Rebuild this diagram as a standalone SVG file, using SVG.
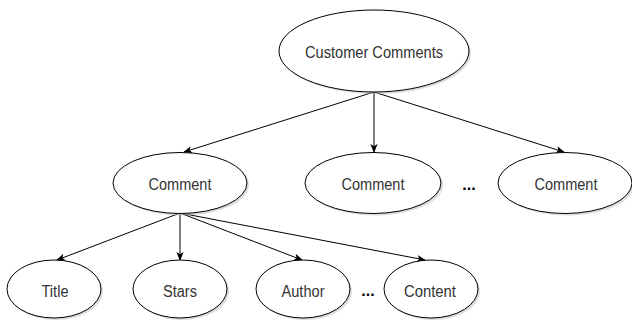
<svg xmlns="http://www.w3.org/2000/svg" width="632" height="326" viewBox="0 0 632 326">
<style>
.n ellipse.s{fill:#bbb;opacity:0.5}
.n ellipse.b{fill:#fff;stroke:#000;stroke-width:1}
.t{font-family:"Liberation Sans",Arial,sans-serif;font-size:16px;fill:#333;text-anchor:middle}
.d{font-family:"Liberation Sans",Arial,sans-serif;font-size:16px;font-weight:bold;fill:#000;text-anchor:middle}
.c line{stroke:#000;stroke-width:1;fill:none}
</style>
<defs>
<marker id="ar" viewBox="0 0 10 10" refX="9" refY="5" markerWidth="9" markerHeight="9" markerUnits="userSpaceOnUse" orient="auto">
<path d="M0,1 L10,5 L0,9 L2.5,5 Z" fill="#000"/>
</marker>
</defs>
<rect width="632" height="326" fill="#fff"/>
<g class="c">
<line x1="374" y1="92" x2="184" y2="152" marker-end="url(#ar)"/>
<line x1="374" y1="92" x2="374" y2="152" marker-end="url(#ar)"/>
<line x1="374" y1="92" x2="564" y2="152" marker-end="url(#ar)"/>
<line x1="180" y1="213" x2="57" y2="260" marker-end="url(#ar)"/>
<line x1="180" y1="213" x2="180" y2="260" marker-end="url(#ar)"/>
<line x1="180" y1="213" x2="302" y2="260" marker-end="url(#ar)"/>
<line x1="180" y1="213" x2="425" y2="260" marker-end="url(#ar)"/>
</g>
<g id="customer-comments" class="n">
<ellipse class="s" cx="376" cy="53" rx="95" ry="41"/>
<ellipse class="b" cx="374" cy="51" rx="95" ry="41"/>
<text class="t" x="374" y="58" textLength="138" lengthAdjust="spacingAndGlyphs">Customer Comments</text>
</g>
<g id="comment1" class="n">
<ellipse class="s" cx="182" cy="185" rx="67" ry="30.5"/>
<ellipse class="b" cx="180" cy="183" rx="67" ry="30.5"/>
<text class="t" x="180" y="190" textLength="63" lengthAdjust="spacingAndGlyphs">Comment</text>
</g>
<g id="comment2" class="n">
<ellipse class="s" cx="375" cy="185" rx="68" ry="30.5"/>
<ellipse class="b" cx="373" cy="183" rx="68" ry="30.5"/>
<text class="t" x="373" y="190" textLength="63" lengthAdjust="spacingAndGlyphs">Comment</text>
</g>
<g id="comment3" class="n">
<ellipse class="s" cx="567" cy="185" rx="67" ry="30.5"/>
<ellipse class="b" cx="565" cy="183" rx="67" ry="30.5"/>
<text class="t" x="566" y="190" textLength="63" lengthAdjust="spacingAndGlyphs">Comment</text>
</g>
<g id="ellipsis1"><text class="d" x="469" y="190">...</text></g>
<g id="title" class="n">
<ellipse class="s" cx="56" cy="291" rx="47" ry="29"/>
<ellipse class="b" cx="54" cy="289" rx="47" ry="29"/>
<text class="t" x="55" y="297" textLength="27" lengthAdjust="spacingAndGlyphs">Title</text>
</g>
<g id="stars" class="n">
<ellipse class="s" cx="182" cy="291" rx="47" ry="29"/>
<ellipse class="b" cx="180" cy="289" rx="47" ry="29"/>
<text class="t" x="180" y="297" textLength="34" lengthAdjust="spacingAndGlyphs">Stars</text>
</g>
<g id="author" class="n">
<ellipse class="s" cx="305" cy="291" rx="47" ry="29"/>
<ellipse class="b" cx="303" cy="289" rx="47" ry="29"/>
<text class="t" x="303" y="297" textLength="43" lengthAdjust="spacingAndGlyphs">Author</text>
</g>
<g id="ellipsis2"><text class="d" x="368" y="296">...</text></g>
<g id="content" class="n">
<ellipse class="s" cx="433" cy="291" rx="47" ry="29"/>
<ellipse class="b" cx="431" cy="289" rx="47" ry="29"/>
<text class="t" x="430" y="297" textLength="52" lengthAdjust="spacingAndGlyphs">Content</text>
</g>
</svg>
